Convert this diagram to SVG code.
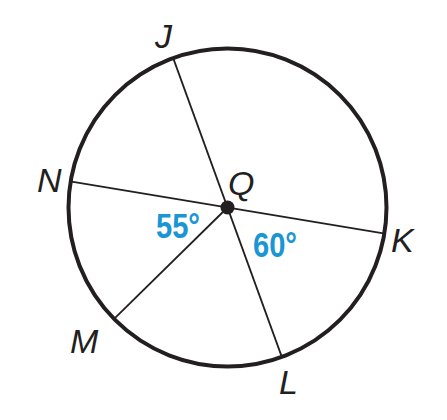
<svg xmlns="http://www.w3.org/2000/svg" width="447" height="420" viewBox="0 0 447 420">
<style>
.lbl{font-family:"Liberation Sans",Arial,sans-serif;font-style:italic;font-size:34px;fill:#231f20}
.ang{font-family:"Liberation Sans",Arial,sans-serif;font-weight:bold;font-size:35px;fill:#1a96d4}
.seg{stroke:#231f20;stroke-width:1.8;fill:none}
</style>
<rect width="447" height="420" fill="#fff"/>
<g id="connectors">
<line class="seg" x1="71.6" y1="181.6" x2="383.4" y2="233.4"/>
<line class="seg" x1="173.2" y1="58.1" x2="281.8" y2="356.9"/>
<line class="seg" x1="227.5" y1="207.5" x2="114.1" y2="318.9"/>
</g>
<g id="circle">
<circle cx="227.5" cy="207.5" r="159" fill="none" stroke="#231f20" stroke-width="4"/>
</g>
<g id="Q">
<circle cx="227.5" cy="207.5" r="7" fill="#231f20"/>
<text class="lbl" x="228" y="195">Q</text>
</g>
<g id="J"><text class="lbl" x="155" y="48">J</text></g>
<g id="N"><text class="lbl" x="37" y="192">N</text></g>
<g id="K"><text class="lbl" x="391" y="252">K</text></g>
<g id="M"><text class="lbl" x="70" y="353">M</text></g>
<g id="L"><text class="lbl" x="279" y="394">L</text></g>
<g id="angle55"><text class="ang" x="156" y="238" textLength="44" lengthAdjust="spacingAndGlyphs">55°</text></g>
<g id="angle60"><text class="ang" x="253" y="257" textLength="44" lengthAdjust="spacingAndGlyphs">60°</text></g>
</svg>
